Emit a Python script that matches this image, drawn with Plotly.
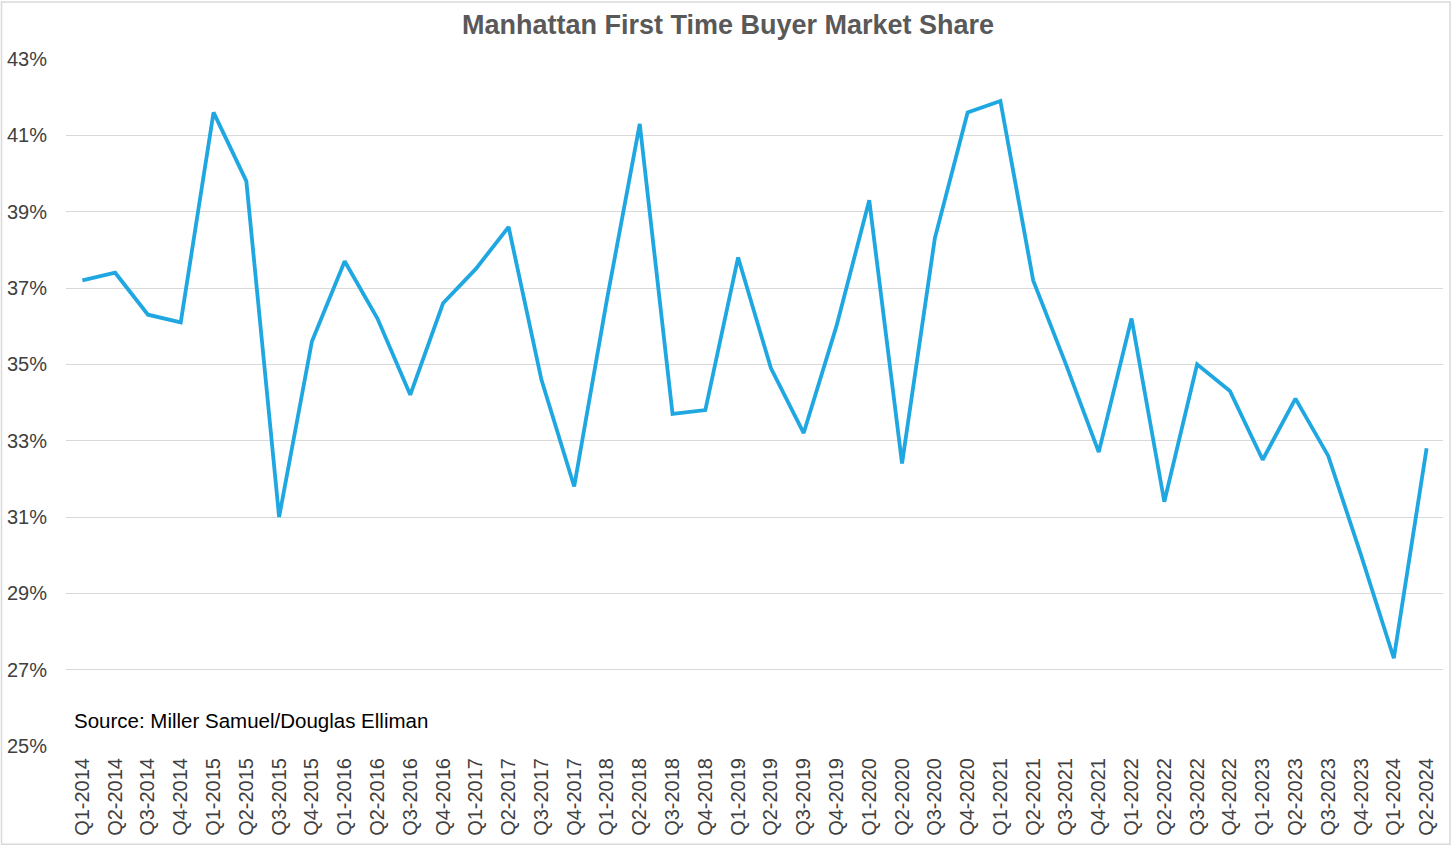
import plotly.graph_objects as go

quarters = [
    "Q1-2014", "Q2-2014", "Q3-2014", "Q4-2014",
    "Q1-2015", "Q2-2015", "Q3-2015", "Q4-2015",
    "Q1-2016", "Q2-2016", "Q3-2016", "Q4-2016",
    "Q1-2017", "Q2-2017", "Q3-2017", "Q4-2017",
    "Q1-2018", "Q2-2018", "Q3-2018", "Q4-2018",
    "Q1-2019", "Q2-2019", "Q3-2019", "Q4-2019",
    "Q1-2020", "Q2-2020", "Q3-2020", "Q4-2020",
    "Q1-2021", "Q2-2021", "Q3-2021", "Q4-2021",
    "Q1-2022", "Q2-2022", "Q3-2022", "Q4-2022",
    "Q1-2023", "Q2-2023", "Q3-2023", "Q4-2023",
    "Q1-2024", "Q2-2024",
]

share_pct = [
    37.2, 37.4, 36.3, 36.1,
    41.6, 39.8, 31.0, 35.6,
    37.7, 36.2, 34.2, 36.6,
    37.5, 38.6, 34.6, 31.8,
    36.7, 41.3, 33.7, 33.8,
    37.8, 34.9, 33.2, 36.0,
    39.3, 32.4, 38.3, 41.6,
    41.9, 37.2, 35.0, 32.7,
    36.2, 31.4, 35.0, 34.3,
    32.5, 34.1, 32.6, 30.0,
    27.3, 32.8,
]

y_ticks = [25, 27, 29, 31, 33, 35, 37, 39, 41, 43]
y_tick_labels = [f"{v}%" for v in y_ticks]

title_text = "Manhattan First Time Buyer Market Share"
source_text = "Source: Miller Samuel/Douglas Elliman"

FONT = "Liberation Sans, Arial, sans-serif"
W, H = 1456, 848
L, R, T, B = 66, 13, 58.5, 101.5
PW, PH = W - L - R, H - T - B

fig = go.Figure()
fig.add_trace(go.Scatter(
    x=quarters, y=share_pct, mode="lines",
    line=dict(color="#1FA7E1", width=3.8),
    hoverinfo="x+y", showlegend=False,
))

def px_to_paper_x(px):
    return (px - L) / PW

def px_to_paper_y(py):
    return (H - B - py) / PH

fig.update_layout(
    width=W, height=H,
    margin=dict(l=L, r=R, t=T, b=B, autoexpand=False),
    paper_bgcolor="white", plot_bgcolor="white",
    title=dict(
        text=f"<b>{title_text}</b>",
        x=0.5, xref="container", xanchor="center",
        y=1 - 25 / H, yref="container", yanchor="middle",
        font=dict(family=FONT, size=27, color="#595959"),
    ),
    xaxis=dict(
        type="category", range=[-0.5, len(quarters) - 0.5],
        showgrid=False, showline=False, zeroline=False,
        tickangle=-90, ticks="outside", ticklen=3, tickcolor="rgba(0,0,0,0)",
        tickfont=dict(family=FONT, size=20, color="#404040"),
        automargin=False,
    ),
    yaxis=dict(
        range=[25, 43], tickvals=y_ticks, ticktext=y_tick_labels,
        showgrid=True, gridcolor="#D9D9D9", gridwidth=1,
        showline=False, zeroline=False,
        ticks="outside", ticklen=14, tickcolor="rgba(0,0,0,0)",
        tickfont=dict(family=FONT, size=20, color="#404040"),
        automargin=False,
    ),
    annotations=[dict(
        text=source_text, xref="paper", yref="paper",
        x=px_to_paper_x(72), y=px_to_paper_y(721),
        xanchor="left", yanchor="middle", showarrow=False,
        font=dict(family=FONT, size=20.5, color="#000000"),
    )],
    shapes=[dict(
        type="rect", xref="paper", yref="paper",
        x0=px_to_paper_x(1.5), x1=px_to_paper_x(1450),
        y0=px_to_paper_y(845), y1=px_to_paper_y(1.5),
        line=dict(color="#D9D9D9", width=1.5), fillcolor="rgba(0,0,0,0)",
        layer="below",
    )],
)

fig.write_html(
    "out.html",
    config={"displayModeBar": False},
    post_script="document.body.style.margin='0';document.body.style.overflow='hidden';",
)
